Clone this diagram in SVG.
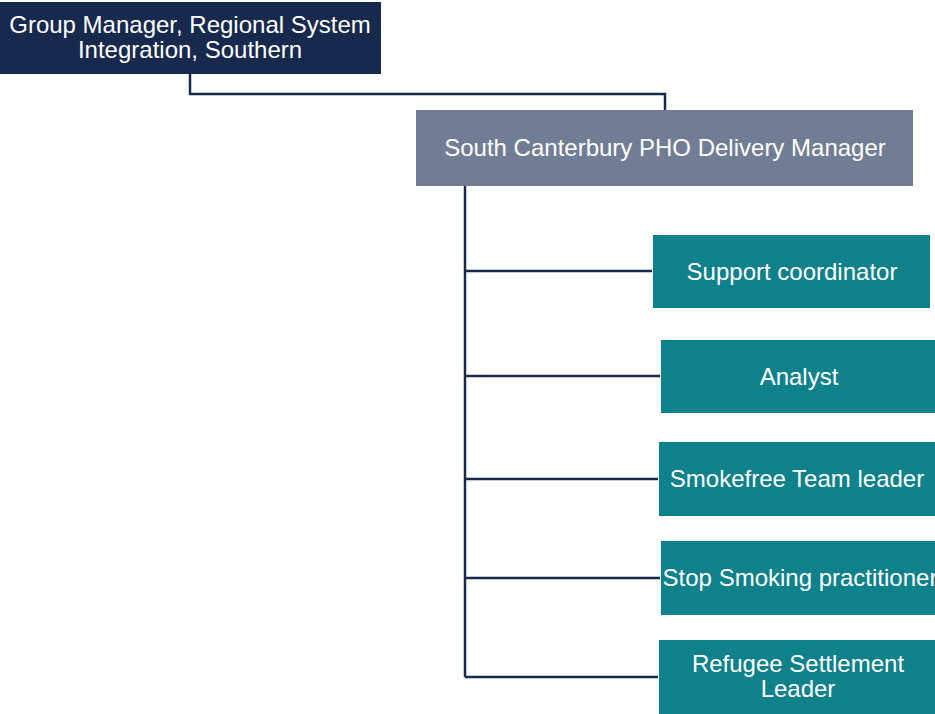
<svg xmlns="http://www.w3.org/2000/svg" width="935" height="714" viewBox="0 0 935 714">
<style>
.t{font-family:"Liberation Sans",Arial,sans-serif;font-size:24px;fill:#ffffff;text-anchor:middle}
.c{fill:none;stroke:#172a4e;stroke-width:2.5}
.teal{fill:#0e818a}
</style>
<rect width="935" height="714" fill="#ffffff"/>
<g id="connectors">
<path class="c" d="M190,74 V94 H665 V110"/>
<path class="c" d="M465,186 V677"/>
<path class="c" d="M465,271 H652"/>
<path class="c" d="M465,376 H660"/>
<path class="c" d="M465,479 H658"/>
<path class="c" d="M465,578 H660"/>
<path class="c" d="M465,677 H658"/>
</g>
<g id="group-manager">
<rect x="0" y="2" width="381" height="72" fill="#172a4e"/>
<text class="t" x="190" y="33">Group Manager, Regional System</text>
<text class="t" x="190" y="58">Integration, Southern</text>
</g>
<g id="delivery-manager">
<rect x="416" y="110" width="497" height="76" fill="#717d94"/>
<text class="t" x="665" y="156">South Canterbury PHO Delivery Manager</text>
</g>
<g id="support-coordinator">
<rect class="teal" x="653" y="235" width="277" height="73"/>
<text class="t" x="792" y="280">Support coordinator</text>
</g>
<g id="analyst">
<rect class="teal" x="661" y="340" width="274" height="73"/>
<text class="t" x="799" y="385">Analyst</text>
</g>
<g id="smokefree">
<rect class="teal" x="659" y="442" width="276" height="74"/>
<text class="t" x="797" y="487">Smokefree Team leader</text>
</g>
<g id="stop-smoking">
<rect class="teal" x="661" y="541" width="274" height="74"/>
<text class="t" x="800" y="586">Stop Smoking practitioner</text>
</g>
<g id="refugee">
<rect class="teal" x="659" y="640" width="276" height="74"/>
<text class="t" x="798" y="672">Refugee Settlement</text>
<text class="t" x="798" y="697">Leader</text>
</g>
</svg>
